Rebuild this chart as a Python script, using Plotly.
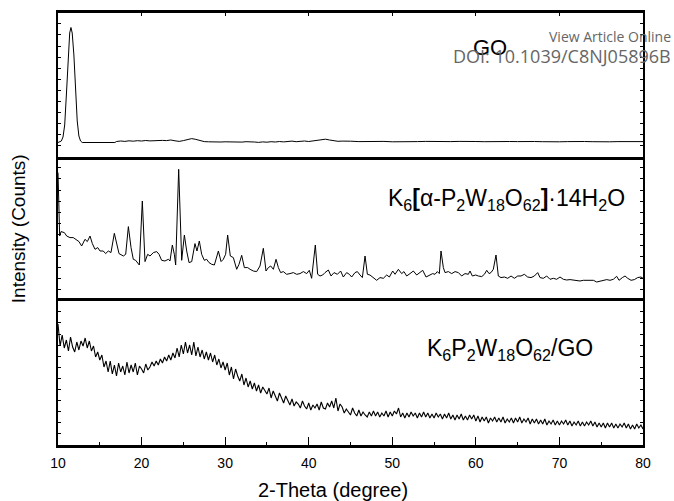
import plotly.graph_objects as go
from plotly.subplots import make_subplots

# ---------------- data (2-theta in degrees, intensity in arbitrary panel units) ----------------
go_x = [10.0, 10.4, 10.6, 10.8, 11.0, 11.2, 11.4, 11.55, 11.7, 11.9, 12.1, 12.3, 12.5, 12.7, 12.9, 16.8,
        17.0, 17.5, 18.0, 18.5, 19.0, 19.5, 20.0, 20.5, 21.0, 21.5, 22.0, 22.5, 23.0, 23.5, 24.0, 24.5,
        25.0, 25.5, 26.0, 26.5, 27.0, 27.5, 28.0, 28.5, 29.0, 29.5, 30.0, 31.0, 31.5, 32.0, 32.5, 33.0,
        33.5, 34.0, 34.5, 35.0, 35.5, 36.0, 36.5, 37.0, 37.5, 38.0, 38.5, 39.0, 39.5, 40.0, 40.5, 41.0,
        41.5, 42.0, 42.5, 43.0, 43.5, 44.0, 44.5, 45.0, 46.0, 47.0, 48.0, 49.0, 50.0, 51.0, 52.0, 53.0,
        54.0, 55.0, 56.0, 57.0, 58.0, 59.0, 60.0, 61.0, 62.0, 63.0, 64.0, 65.0, 66.0, 67.0, 68.0, 69.0,
        70.0, 71.0, 72.0, 73.0, 74.0, 75.0, 76.0, 77.0, 78.0, 79.0, 80.0]
go_y = [14.5, 16.0, 20.0, 32.0, 62.0, 100.0, 124.0, 129.5, 124.0, 102.0, 66.0, 36.0, 21.0, 16.0, 14.5, 14.5,
        15.5, 16.0, 15.6, 16.2, 15.8, 16.3, 16.0, 16.5, 16.1, 16.4, 16.0, 16.6, 16.4, 17.0, 16.2, 15.6,
        16.4, 17.2, 18.4, 17.6, 16.2, 15.4, 15.2, 15.0, 15.3, 15.0, 15.2, 14.8, 15.2, 14.9, 15.3, 14.8,
        15.0, 14.6, 15.1, 14.8, 15.3, 15.0, 15.5, 15.1, 15.4, 15.9, 15.3, 15.6, 16.0, 15.5, 16.0, 16.4,
        16.9, 17.8, 17.0, 16.0, 15.7, 15.9, 15.5, 15.8, 15.4, 15.7, 15.3, 15.6, 15.2, 15.5, 15.8, 15.4,
        15.6, 15.3, 15.7, 15.4, 15.6, 15.2, 15.5, 15.3, 15.6, 15.2, 15.5, 15.4, 15.1, 15.5, 15.3, 15.6,
        15.2, 15.4, 15.1, 15.5, 15.3, 15.6, 15.2, 15.4, 15.5, 15.2, 15.4]

mid_x = [10.0, 10.2, 10.36, 10.76, 11.04, 11.43, 11.83, 12.23, 12.51, 12.83, 13.23, 13.51, 13.83, 14.11,
         14.43, 14.75, 15.03, 15.42, 15.70, 16.02, 16.34, 16.74, 17.06, 17.30, 17.82, 18.10, 18.42, 18.74,
         19.01, 19.29, 19.73, 20.09, 20.41, 20.73, 21.01, 21.41, 21.81, 22.09, 22.40, 22.80, 23.20, 23.40,
         23.68, 23.92, 24.08, 24.44, 24.80, 25.12, 25.40, 25.68, 26.00, 26.39, 26.63, 26.91, 27.19, 27.51,
         27.79, 28.07, 28.39, 28.71, 29.19, 29.51, 29.78, 30.06, 30.30, 30.62, 30.98, 31.38, 31.66, 31.98,
         32.30, 32.70, 32.98, 33.37, 33.77, 34.17, 34.57, 34.89, 35.17, 35.45, 35.77, 36.09, 36.37, 36.64,
         36.96, 37.36, 37.76, 38.16, 38.56, 38.96, 39.36, 39.76, 40.07, 40.35, 40.79, 41.07, 41.35, 41.67,
         41.95, 42.35, 42.67, 43.03, 43.43, 43.82, 44.14, 44.54, 44.86, 45.14, 45.54, 45.82, 46.14, 46.42,
         46.74, 47.02, 47.33, 47.73, 48.13, 48.53, 48.93, 49.33, 49.65, 50.05, 50.33, 50.73, 51.12, 51.40,
         51.72, 52.12, 52.52, 52.92, 53.32, 53.64, 54.04, 54.43, 54.83, 55.11, 55.39, 55.63, 55.83, 56.11,
         56.31, 56.71, 57.11, 57.51, 57.91, 58.30, 58.70, 59.10, 59.30, 59.58, 59.98, 60.30, 60.70, 61.02,
         61.30, 61.58, 61.81, 62.09, 62.41, 62.69, 63.01, 63.41, 63.81, 64.21, 64.61, 65.01, 65.40, 65.80,
         66.20, 66.60, 67.00, 67.40, 67.68, 68.08, 68.48, 68.87, 69.27, 69.67, 70.07, 70.47, 70.87, 71.27,
         71.67, 72.07, 72.46, 72.86, 73.26, 73.66, 74.06, 74.46, 74.86, 75.26, 75.66, 76.05, 76.45, 76.85,
         77.13, 77.53, 77.85, 78.17, 78.57, 78.97, 79.36, 79.76, 80.0]
mid_y = [128.4, 65.0, 69.4, 68.4, 65.0, 63.4, 63.4, 60.7, 59.4, 55.0, 61.7, 59.4, 65.0, 57.4,
         51.7, 53.4, 50.0, 50.0, 47.4, 50.0, 48.4, 67.7, 57.4, 47.4, 45.0, 46.7, 74.4, 53.4,
         41.7, 40.7, 36.0, 100.0, 39.4, 46.7, 45.0, 48.4, 49.4, 46.7, 40.7, 40.0, 41.7, 40.0,
         56.0, 46.7, 36.0, 131.7, 40.7, 66.0, 50.0, 38.4, 39.4, 57.4, 50.0, 60.0, 46.7, 40.7,
         41.7, 38.4, 36.7, 36.0, 50.0, 39.4, 41.7, 46.7, 66.0, 45.0, 43.4, 31.7, 36.7, 45.7,
         33.4, 33.4, 31.7, 30.0, 29.4, 35.0, 52.7, 30.0, 33.4, 35.0, 31.7, 41.7, 33.4, 28.4,
         29.4, 26.7, 27.4, 28.4, 26.7, 27.4, 29.4, 27.4, 30.7, 22.7, 56.0, 26.7, 25.0, 26.0,
         28.4, 31.0, 25.0, 28.4, 26.7, 30.0, 24.0, 28.4, 26.7, 24.0, 28.4, 29.4, 26.0, 23.4,
         45.0, 26.7, 26.0, 23.4, 20.7, 23.4, 22.7, 26.0, 24.0, 30.0, 26.7, 31.7, 27.4, 29.4,
         25.0, 27.4, 30.0, 26.0, 28.4, 30.7, 24.0, 26.0, 27.4, 26.7, 29.4, 27.4, 50.0, 33.4,
         28.4, 29.4, 27.4, 29.4, 28.4, 25.0, 27.4, 26.7, 30.0, 25.0, 26.0, 25.0, 24.4, 26.7,
         30.7, 27.4, 28.4, 31.7, 46.0, 25.0, 23.4, 24.0, 22.7, 25.0, 22.7, 25.0, 25.0, 26.7,
         24.0, 23.4, 25.0, 28.4, 23.4, 22.7, 25.0, 21.7, 22.7, 21.7, 24.0, 21.7, 21.0, 21.4,
         20.7, 20.7, 20.0, 20.7, 20.7, 20.0, 20.7, 19.0, 20.0, 20.7, 21.4, 20.7, 21.7, 24.7,
         20.7, 23.4, 25.0, 22.7, 20.7, 21.4, 23.4, 24.0, 22.7]

# composite: scanned every 0.25 degree from 10 to 80
bot_step = 0.25
bot_y = [121, 99, 110, 97,  105, 94, 108, 98,  93, 103, 95, 104,  99, 107, 97, 104,
         94, 99, 88, 93,  85, 90, 78, 84,  73, 84, 71, 80,  69, 82, 73, 79,
         70, 83, 72, 80,  73, 82, 70, 79,  76, 72, 81, 75,  78, 83, 79, 84,
         80, 86, 82, 88,  84, 90, 85, 92,  87, 97, 88, 100,  91, 103, 92, 100,
         90, 103, 89, 98,  88, 95, 86, 93,  85, 92, 83, 90,  80, 86, 77, 83,
         75, 82, 70, 78,  66, 76, 69, 64,  71, 60, 67, 58,  64, 56, 62, 54,
         60, 52, 58, 55,  51, 57, 47, 54,  49, 44, 52, 46,  42, 49, 44, 40,
         46, 39, 43, 41,  37, 44, 39, 36,  42, 35, 40, 37,  41, 35, 43, 37,
         36, 42, 38, 44,  37, 47, 34, 41,  38, 32, 36, 33,  30, 37, 32, 29,
         35, 29, 33, 30,  28, 33, 29, 34,  29, 33, 28, 32,  29, 34, 28, 33,
         29, 34, 31, 37,  28, 32, 27, 32,  28, 33, 29, 32,  27, 32, 28, 33,
         28, 32, 27, 31,  27, 32, 28, 31,  26, 31, 27, 32,  26, 30, 25, 30,
         26, 31, 25, 29,  25, 30, 26, 30,  24, 29, 23, 28,  24, 28, 22, 27,
         24, 28, 23, 27,  23, 28, 22, 26,  23, 27, 22, 27,  23, 28, 22, 26,
         23, 27, 21, 26,  22, 26, 21, 25,  21, 26, 20, 24,  21, 25, 20, 24,
         20, 24, 21, 25,  20, 24, 19, 23,  20, 24, 19, 23,  19, 23, 20, 24,
         19, 23, 18, 22,  18, 22, 17, 22,  18, 22, 17, 21,  17, 21, 18, 22,
         17, 21, 16, 20,  16, 21, 17, 20,  16]
bot_x = [round(10 + bot_step * i, 2) for i in range(len(bot_y))]

x_ticks = [10, 20, 30, 40, 50, 60, 70, 80]

label_go = "GO"
label_mid = "K<sub>6</sub><b>[</b>α-P<sub>2</sub>W<sub>18</sub>O<sub>62</sub><b>]</b>·14H<sub>2</sub>O"
label_bot = "K<sub>6</sub>P<sub>2</sub>W<sub>18</sub>O<sub>62</sub>/GO"

# ---------------- figure ----------------
fig = make_subplots(rows=3, cols=1, shared_xaxes=True, vertical_spacing=0)
fig.add_trace(go.Scatter(x=go_x, y=go_y, mode="lines", line=dict(color="black", width=1),
                         showlegend=False), row=1, col=1)
fig.add_trace(go.Scatter(x=mid_x, y=mid_y, mode="lines", line=dict(color="black", width=1),
                         showlegend=False), row=2, col=1)
fig.add_trace(go.Scatter(x=bot_x, y=bot_y, mode="lines", line=dict(color="black", width=1.1),
                         showlegend=False), row=3, col=1)

sans = "Liberation Sans, Arial, sans-serif"

for r in (1, 2, 3):
    fig.update_yaxes(range=[0, 144], showline=True, linecolor="black", linewidth=2, mirror="ticks",
                     ticks="inside", ticklen=3, tickwidth=1, tickcolor="black", tick0=0, dtick=11.1,
                     showticklabels=False, showgrid=False, zeroline=False, row=r, col=1)
    fig.update_xaxes(range=[10, 80], showline=True, linecolor="black", linewidth=2.5, mirror=True,
                     showgrid=False, zeroline=False, row=r, col=1)

fig.update_xaxes(side="top", ticks="inside", ticklen=3, tickcolor="black", tickvals=x_ticks,
                 showticklabels=False, row=1, col=1)
fig.update_xaxes(ticks="", showticklabels=False, showline=False, row=2, col=1)
fig.update_xaxes(ticks="inside", ticklen=8, tickwidth=1, tickcolor="black", tickvals=x_ticks,
                 ticktext=[str(v) for v in x_ticks], showticklabels=True, ticklabelstandoff=3,
                 tickfont=dict(family=sans, size=14, color="black"),
                 minor=dict(ticks="inside", ticklen=3, dtick=5, tick0=10, tickcolor="black", showgrid=False),
                 row=3, col=1)

fig.update_layout(
    width=674, height=501, margin=dict(l=58, r=31, t=13, b=56),
    paper_bgcolor="white", plot_bgcolor="white",
    font=dict(family=sans, color="black"),
)

ann = []
ann.append(dict(text=label_go, x=61.7, y=110, xref="x", yref="y", showarrow=False,
                font=dict(family=sans, size=22, color="black"), xanchor="center", yanchor="middle"))
ann.append(dict(text=label_mid, x=63.7, y=102, xref="x2", yref="y2", showarrow=False,
                font=dict(family=sans, size=23, color="black"), xanchor="center", yanchor="middle"))
ann.append(dict(text=label_bot, x=64.1, y=96, xref="x3", yref="y3", showarrow=False,
                font=dict(family=sans, size=23, color="black"), xanchor="center", yanchor="middle"))
ann.append(dict(text="2-Theta (degree)", x=0.47, y=-0.104, xref="paper", yref="paper", showarrow=False,
                font=dict(family=sans, size=20, color="black"), xanchor="center", yanchor="middle"))
ann.append(dict(text="Intensity (Counts)", x=-0.068, y=0.50, xref="paper", yref="paper", showarrow=False,
                textangle=-90, font=dict(family=sans, size=19, color="black"),
                xanchor="center", yanchor="middle"))
ann.append(dict(text="View Article Online", x=1.052, y=0.946, xref="paper", yref="paper", showarrow=False,
                font=dict(family="Open Sans, sans-serif", size=14, color="#666666"),
                xanchor="right", yanchor="middle"))
ann.append(dict(text="DOI: 10.1039/C8NJ05896B", x=1.052, y=0.90, xref="paper", yref="paper", showarrow=False,
                font=dict(family="Open Sans, sans-serif", size=18, color="#666666"),
                xanchor="right", yanchor="middle"))
fig.update_layout(annotations=ann)

fig.write_html("out.html")
